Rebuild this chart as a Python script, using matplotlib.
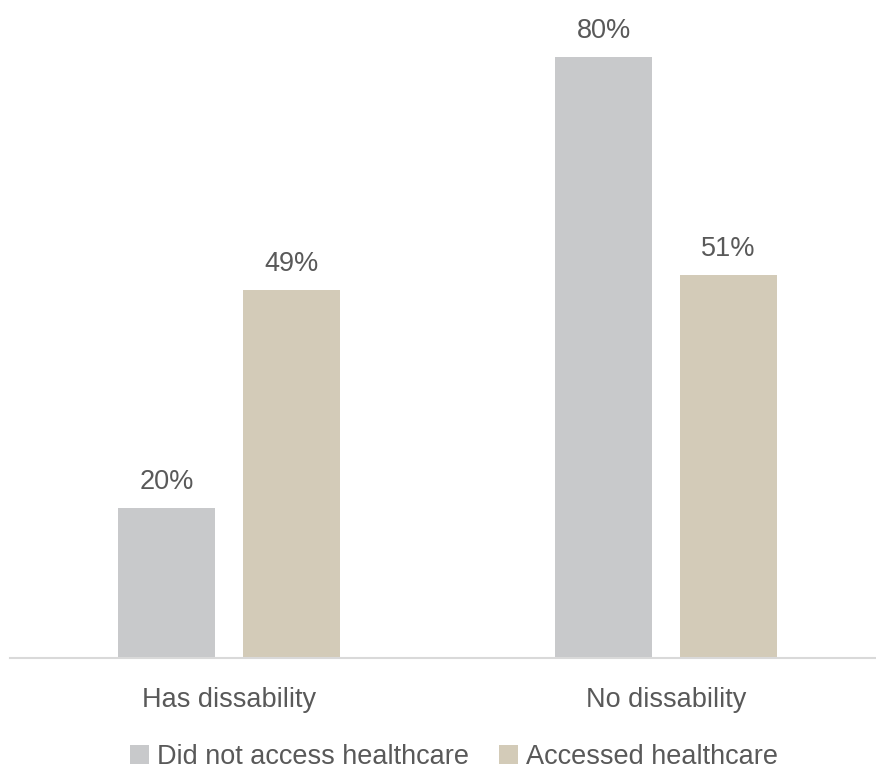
import numpy as np
import matplotlib
matplotlib.use("Agg")
import matplotlib.pyplot as plt

plt.rcParams['font.family'] = ['Liberation Sans Narrow', 'Liberation Sans', 'DejaVu Sans']

# data
categories = ["Has dissability", "No dissability"]
did_not_access = [20, 80]
accessed = [49, 51]
series_names = ["Did not access healthcare", "Accessed healthcare"]
colors = ["#c8c9cb", "#d3cbb8"]
text_color = "#595959"

fig = plt.figure(figsize=(8.76, 7.70), dpi=100)
ax = fig.add_axes([10/876, 112/770, 866/876, 658/770])

x = np.arange(len(categories))
w = 0.222
off = 0.143
b1 = ax.bar(x - off, did_not_access, w, color=colors[0], label=series_names[0])
b2 = ax.bar(x + off, accessed, w, color=colors[1], label=series_names[1])

for bars, vals in [(b1, did_not_access), (b2, accessed)]:
    for r, v in zip(bars, vals):
        ax.text(r.get_x() + r.get_width()/2, v + 2.5, f"{v}%", ha="center", va="baseline",
                fontsize=19.5, color=text_color)

ax.set_xlim(-0.501, 1.48)
ax.set_ylim(0, 87.6)
ax.set_yticks([])
ax.set_xticks(x)
ax.set_xticklabels(categories, fontsize=19.5, color=text_color)
ax.tick_params(axis="x", length=0, pad=21)
for s in ["top", "right", "left"]:
    ax.spines[s].set_visible(False)
ax.spines["bottom"].set_color("#d9d9d9")
ax.spines["bottom"].set_linewidth(1.5)

fig.legend(loc="center", bbox_to_anchor=(0.518, 0.017), ncol=2, frameon=False,
           fontsize=19.5, handlelength=0.7, handleheight=0.7, handletextpad=0.3,
           columnspacing=1.1, labelcolor=text_color)

fig.savefig("out.png", dpi=100)
